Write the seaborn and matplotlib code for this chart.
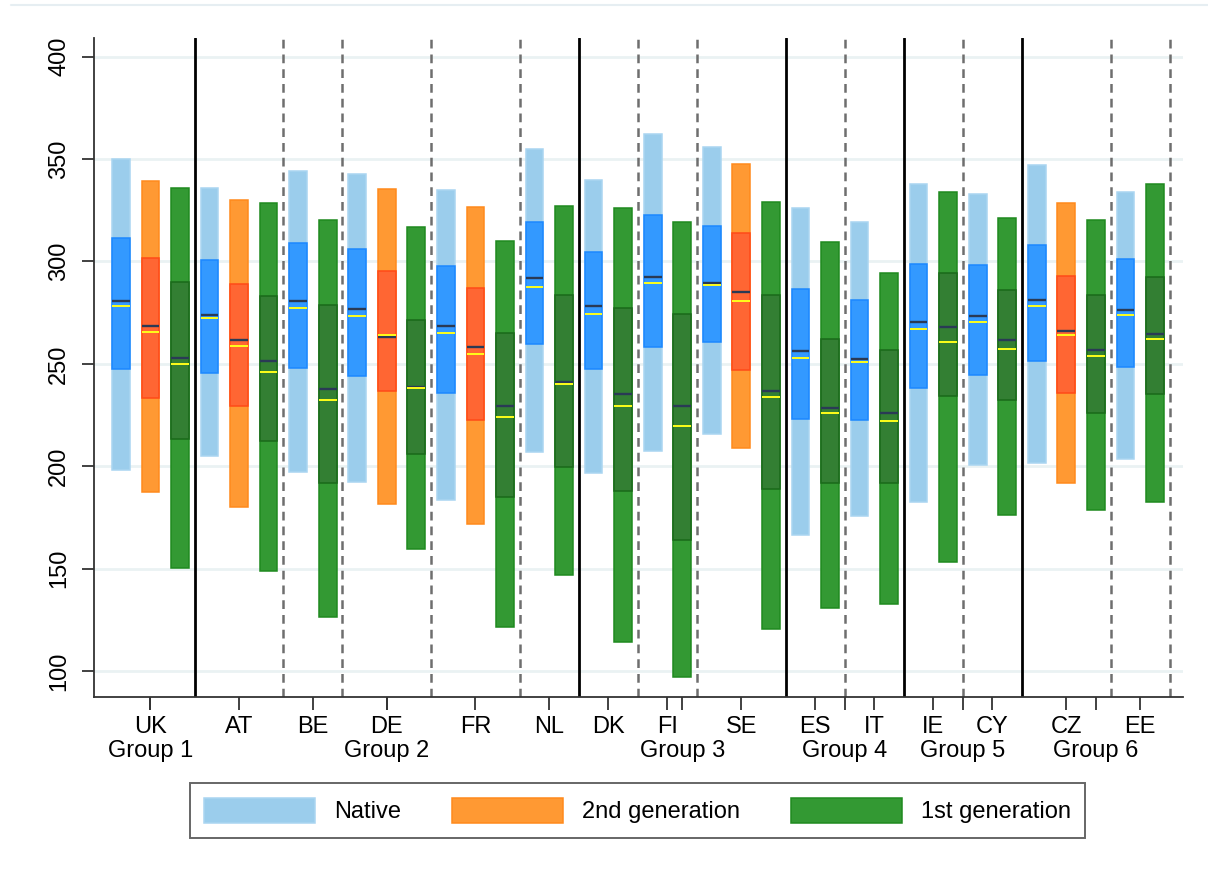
import numpy as np
import pandas as pd
import seaborn as sns
import matplotlib
matplotlib.use("Agg")
import matplotlib.pyplot as plt
from matplotlib.patches import Patch
from matplotlib.lines import Line2D

# ---------------- data ----------------
countries = ["UK", "AT", "BE", "DE", "FR", "NL", "DK", "FI", "SE", "ES", "IT", "IE", "CY", "CZ", "EE"]
country_group = [1, 2, 2, 2, 2, 2, 3, 3, 3, 4, 4, 5, 5, 6, 6]
group_labels = ["Group 1", "Group 2", "Group 3", "Group 4", "Group 5", "Group 6"]
origins = ["Native", "2nd generation", "1st generation"]

# statistics per bar: p5, p25, median, mean, p75, p95
native_p5 = [198.0, 205.2, 197.1, 192.4, 183.7, 207.0, 196.7, 207.5, 215.6, 166.2, 175.6, 182.7, 200.5, 201.6, 203.4]
native_p25 = [247.5, 245.7, 247.8, 244.0, 235.9, 259.8, 247.5, 258.4, 260.5, 223.1, 222.4, 238.0, 244.5, 251.6, 248.5]
native_med = [280.6, 273.8, 280.6, 276.6, 268.6, 291.9, 278.4, 292.4, 289.5, 256.3, 252.2, 270.2, 273.2, 281.3, 276.1]
native_mean = [278.4, 272.5, 277.2, 273.3, 265.0, 287.7, 274.3, 289.5, 288.3, 252.8, 250.7, 266.8, 270.2, 278.4, 273.8]
native_p75 = [311.6, 300.5, 309.1, 305.9, 297.6, 319.2, 304.5, 322.6, 317.4, 286.5, 281.3, 298.7, 298.2, 308.0, 301.0]
native_p95 = [350.1, 336.0, 344.1, 342.9, 334.8, 355.1, 339.8, 362.4, 355.8, 326.0, 319.2, 337.7, 333.0, 347.0, 334.1]

N = None
second_p5 = [187.2, 180.2, N, 181.5, 171.6, N, N, N, 208.8, N, N, N, N, 191.9, N]
second_p25 = [233.5, 229.4, N, 236.6, 222.7, N, N, N, 247.0, N, N, N, N, 235.8, N]
second_med = [268.6, 261.5, N, 263.3, 258.0, N, N, N, 284.9, N, N, N, N, 266.2, N]
second_mean = [265.5, 258.7, N, 264.2, 254.6, N, N, N, 280.6, N, N, N, N, 264.2, N]
second_p75 = [301.8, 288.8, N, 295.3, 287.2, N, N, N, 313.8, N, N, N, N, 292.8, N]
second_p95 = [339.5, 330.1, N, 335.4, 326.7, N, N, N, 347.6, N, N, N, N, 328.5, N]

first_p5 = [150.1, 148.8, 126.2, 159.4, 121.6, 146.7, 113.9, 97.0, 120.5, 130.9, 132.8, 153.0, 176.1, 178.5, 182.6]
first_p25 = [213.3, 212.2, 191.9, 205.8, 184.9, 199.4, 187.8, 164.1, 188.9, 191.9, 191.9, 234.3, 232.5, 226.0, 235.5]
first_med = [252.7, 251.2, 237.7, 238.7, 229.6, 241.1, 235.5, 229.6, 236.7, 228.5, 226.0, 267.9, 261.5, 256.9, 264.5]
first_mean = [249.9, 246.0, 232.5, 238.0, 223.9, 240.0, 229.6, 219.4, 233.7, 226.0, 221.9, 260.5, 257.4, 254.0, 262.1]
first_p75 = [289.9, 283.1, 278.5, 271.2, 265.0, 283.4, 277.2, 274.3, 283.6, 262.0, 256.8, 294.5, 285.9, 283.6, 292.4]
first_p95 = [336.0, 328.5, 320.3, 316.6, 310.2, 327.0, 325.9, 319.2, 328.9, 309.3, 294.6, 334.1, 321.3, 320.2, 337.6]

series = {
    "Native": (native_p5, native_p25, native_med, native_mean, native_p75, native_p95),
    "2nd generation": (second_p5, second_p25, second_med, second_mean, second_p75, second_p95),
    "1st generation": (first_p5, first_p25, first_med, first_mean, first_p75, first_p95),
}

# --------------- build long table ---------------
rows = []
pos = 0
for ci, c in enumerate(countries):
    for o in origins:
        vals = [s[ci] for s in series[o]]
        if vals[0] is None:
            continue
        rows.append(dict(country=c, group=country_group[ci], origin=o, pos=pos,
                         p5=vals[0], p25=vals[1], med=vals[2], mean=vals[3],
                         p75=vals[4], p95=vals[5]))
        pos += 1
df = pd.DataFrame(rows)

# --------------- style ---------------
sns.set_theme(style="white")
plt.rcParams["font.family"] = ["Liberation Sans", "DejaVu Sans"]
plt.rcParams["text.color"] = "black"
plt.rcParams["xtick.color"] = "#333333"
plt.rcParams["ytick.color"] = "#333333"
plt.rcParams["xtick.labelcolor"] = "black"
plt.rcParams["ytick.labelcolor"] = "black"

light = {"Native": "#9BCDEC", "2nd generation": "#FF9933", "1st generation": "#339933"}
light_edge = {"Native": "#AAD5F1", "2nd generation": "#FF8A1C", "1st generation": "#1F8A1F"}
dark = {"Native": "#3399FF", "2nd generation": "#FF6633", "1st generation": "#337F33"}
dark_edge = {"Native": "#1C88FF", "2nd generation": "#FF4A18", "1st generation": "#1A6A1A"}
med_col = "#2A3A55"
mean_col = "#FFFF1A"

W, H = 1208, 872
fig = plt.figure(figsize=(W / 100, H / 100), dpi=100)
ax = fig.add_axes([93.7 / W, (H - 696.7) / H, (1182.7 - 93.7) / W, (696.7 - 37.7) / H])

bw = 0.6
for _, r in df.iterrows():
    o = r["origin"]
    ax.bar(r["pos"], r["p95"] - r["p5"], bottom=r["p5"], width=bw,
           color=light[o], edgecolor=light_edge[o], linewidth=1.1, zorder=3)
    ax.bar(r["pos"], r["p75"] - r["p25"], bottom=r["p25"], width=bw,
           color=dark[o], edgecolor=dark_edge[o], linewidth=1.1, zorder=4)
    ax.hlines(r["med"], r["pos"] - bw / 2, r["pos"] + bw / 2, color=med_col, lw=1.7, zorder=5)
    ax.hlines(r["mean"], r["pos"] - bw / 2, r["pos"] + bw / 2, color=mean_col, lw=1.4, zorder=5)

# separators between countries
cinfo = df.groupby("country", sort=False).agg(first=("pos", "min"), last=("pos", "max"),
                                               group=("group", "first")).reset_index()
for i in range(len(cinfo)):
    edge = cinfo.loc[i, "last"] + 0.5
    if i + 1 < len(cinfo) and cinfo.loc[i + 1, "group"] != cinfo.loc[i, "group"]:
        ax.axvline(edge, color="black", lw=2.0, zorder=2)
    else:
        ax.axvline(edge, color="#6E6E6E", lw=1.8, ls=(0, (3.5, 2.4)), zorder=2)

# ticks: countries (major) and groups (minor, second line)
country_pos = ((cinfo["first"] + cinfo["last"]) / 2).tolist()
group_pos = df.groupby("group")["pos"].mean().tolist()

FS = 17
ax.xaxis.remove_overlapping_locs = False
ax.set_xticks(country_pos)
ax.set_xticklabels(cinfo["country"].tolist(), fontsize=FS)
ax.set_xticks(group_pos, minor=True)
ax.set_xticklabels(group_labels, minor=True, fontsize=FS)

ax.set_xlim(-0.92, 35.94)
ax.set_ylim(87.4, 409.3)
ax.set_yticks([100, 150, 200, 250, 300, 350, 400])
ax.set_yticklabels(["100", "150", "200", "250", "300", "350", "400"], rotation=90,
                   va="center", fontsize=FS)
ax.tick_params(axis="both", which="both", length=9, width=1.3, color="#333333",
               direction="out", bottom=True, left=True)
ax.tick_params(axis="x", which="major", pad=5)
ax.tick_params(axis="x", which="minor", pad=22.5)
ax.tick_params(axis="y", pad=8)

ax.grid(axis="y", which="major", color="#EAF2F3", lw=2.0, zorder=0)
ax.grid(axis="x", visible=False, which="both")
for s in ["top", "right"]:
    ax.spines[s].set_visible(False)
for s in ["left", "bottom"]:
    ax.spines[s].set_color("#333333")
    ax.spines[s].set_linewidth(1.3)
ax.set_xlabel("")
ax.set_ylabel("")

# legend
handles = [Patch(facecolor=light[o], edgecolor=light_edge[o], linewidth=1.1) for o in origins]
leg = fig.legend(handles, origins, loc="center", bbox_to_anchor=(637.5 / W, 1 - 810.5 / H),
                 ncol=3, fontsize=FS, frameon=True, fancybox=False,
                 handlelength=4.7, handleheight=1.3, handletextpad=0.8,
                 columnspacing=2.15, borderpad=0.62)
leg.get_frame().set_edgecolor("#404040")
leg.get_frame().set_linewidth(1.4)

# faint top rule
fig.add_artist(Line2D([11 / W, 1.0], [1 - 5 / H, 1 - 5 / H], transform=fig.transFigure,
                      color="#E6EEF2", lw=1.5))

fig.savefig("out.png", dpi=100)
